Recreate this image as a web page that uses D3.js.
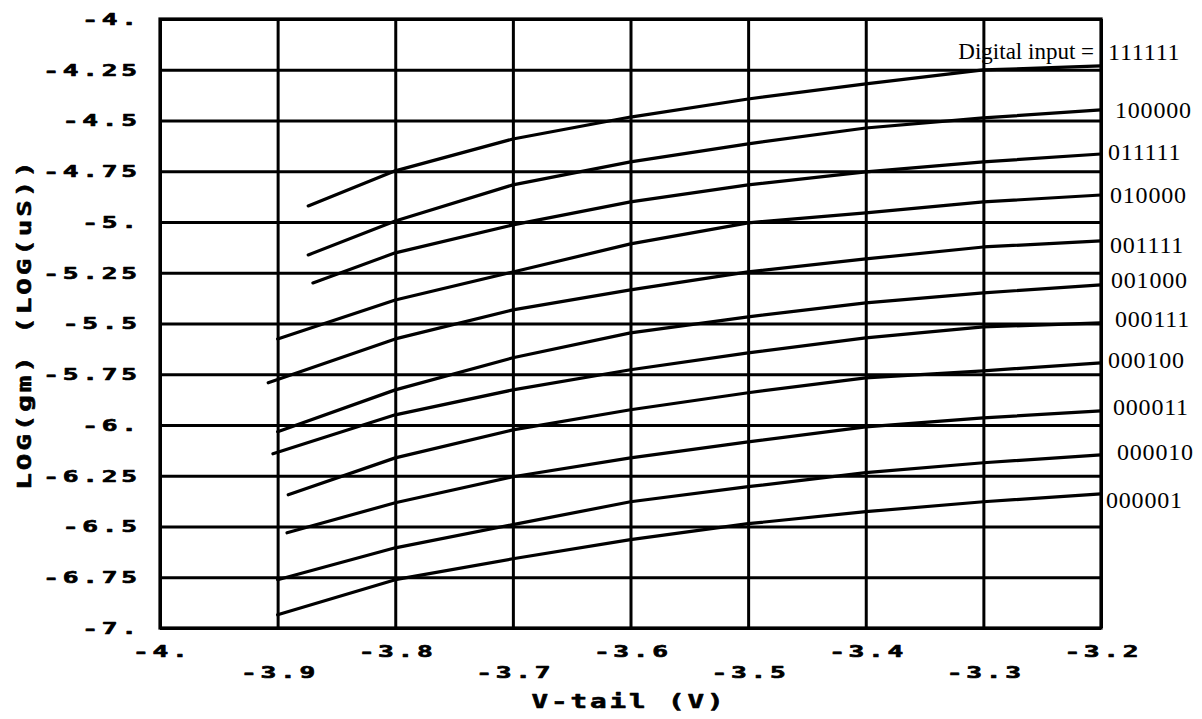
<!DOCTYPE html>
<html>
<head>
<meta charset="utf-8">
<script src="https://cdn.jsdelivr.net/npm/d3@7"></script>
<style>
  html, body { margin: 0; padding: 0; background: #fff; }
  svg { display: block; }
  .serif { font-family: "Liberation Serif", "DejaVu Serif", serif; fill: #000; }
</style>
</head>
<body>
<svg id="chart" width="1202" height="719"></svg>
<script>
// Tail voltage sweep (V) and transconductance curves, one per digital input code.
const inputCodes = ["111111", "100000", "011111", "010000", "001111", "001000",
                    "000111", "000100", "000011", "000010", "000001"];
// first sample of each sweep (V)
const startVTail = [-3.874, -3.874, -3.870, -3.900, -3.908, -3.900, -3.904, -3.891, -3.892, -3.900, -3.900];
// remaining samples are taken at these tail voltages (V)
const gridVTail = [-3.8, -3.7, -3.6, -3.5, -3.4, -3.3, -3.2];

// LOG(gm) values: first entry at startVTail, then at each gridVTail
const gm111111 = [-4.921, -4.748, -4.591, -4.483, -4.394, -4.320, -4.251, -4.231];
const gm100000 = [-5.162, -4.995, -4.817, -4.704, -4.615, -4.537, -4.487, -4.448];
const gm011111 = [-5.300, -5.152, -5.014, -4.901, -4.817, -4.753, -4.704, -4.665];
const gm010000 = [-5.576, -5.384, -5.246, -5.108, -5.004, -4.955, -4.901, -4.867];
const gm001111 = [-5.792, -5.576, -5.433, -5.334, -5.246, -5.182, -5.123, -5.093];
const gm001000 = [-6.033, -5.827, -5.669, -5.546, -5.467, -5.398, -5.349, -5.310];
const gm000111 = [-6.142, -5.950, -5.827, -5.728, -5.645, -5.571, -5.517, -5.497];
const gm000100 = [-6.344, -6.162, -6.024, -5.925, -5.841, -5.768, -5.733, -5.694];
const gm000011 = [-6.531, -6.383, -6.255, -6.162, -6.083, -6.009, -5.965, -5.930];
const gm000010 = [-6.762, -6.605, -6.491, -6.378, -6.304, -6.235, -6.186, -6.147];
const gm000001 = [-6.935, -6.762, -6.659, -6.565, -6.486, -6.427, -6.378, -6.339];
const gmSeries = [gm111111, gm100000, gm011111, gm010000, gm001111, gm001000,
                  gm000111, gm000100, gm000011, gm000010, gm000001];

// Axis ticks
const xTickValues = [-4.0, -3.9, -3.8, -3.7, -3.6, -3.5, -3.4, -3.3, -3.2];
const xTickLabels = ["-4.", "-3.9", "-3.8", "-3.7", "-3.6", "-3.5", "-3.4", "-3.3", "-3.2"];
const yTickValues = [-4, -4.25, -4.5, -4.75, -5, -5.25, -5.5, -5.75, -6, -6.25, -6.5, -6.75, -7];
const yTickLabels = ["-4.", "-4.25", "-4.5", "-4.75", "-5.", "-5.25", "-5.5", "-5.75",
                     "-6.", "-6.25", "-6.5", "-6.75", "-7."];

// Layout
const plot = { left: 160, right: 1101, top: 19, bottom: 628 };
// small nudges (px) for the code labels at the right-hand end of each curve
const labelNudge = [[7, -6], [14, 8], [7, 6], [9, 8], [9, 12], [10, 3],
                    [14, 4], [7, 5], [12, 4], [16, 5], [5, 14]];

// Wide, heavy "plotter" lettering: a bold monospace face stretched horizontally,
// with spacing chosen so each character occupies a fixed pitch.
function plotterStyle(size, sx, pitch) {
  const adv = 0.602 * size;
  const ls = pitch / sx - adv;
  return { size, sx, ls };
}
function applyPlotter(sel, st) {
  sel.attr("font-family", "DejaVu Sans Mono, Liberation Mono, monospace")
    .attr("font-weight", "bold")
    .attr("font-size", st.size)
    .attr("letter-spacing", st.ls)
    .attr("fill", "#000")
    .attr("stroke", "#000")
    .attr("stroke-width", 0.6)
    .attr("stroke-linejoin", "round");
  return sel;
}
const tickStyle = plotterStyle(15, 1.75, 19.5);
const titleStyle = plotterStyle(19, 1.45, 19.5);

const svg = d3.select("#chart");

const x = d3.scaleLinear().domain([-4.0, -3.2]).range([plot.left, plot.right]);
const y = d3.scaleLinear().domain([-7, -4]).range([plot.bottom, plot.top]);

// vertical grid lines
svg.append("g")
  .attr("transform", `translate(0,${plot.bottom})`)
  .call(d3.axisBottom(x).tickValues(xTickValues).tickSize(-(plot.bottom - plot.top)).tickFormat(""))
  .call(g => g.select(".domain").remove())
  .call(g => g.selectAll("line").attr("stroke", "#000").attr("stroke-width", 3));

// horizontal grid lines
svg.append("g")
  .attr("transform", `translate(${plot.left},0)`)
  .call(d3.axisLeft(y).tickValues(yTickValues).tickSize(-(plot.right - plot.left)).tickFormat(""))
  .call(g => g.select(".domain").remove())
  .call(g => g.selectAll("line").attr("stroke", "#000").attr("stroke-width", 3));

// frame
svg.append("rect")
  .attr("x", plot.left).attr("y", plot.top)
  .attr("width", plot.right - plot.left).attr("height", plot.bottom - plot.top)
  .attr("fill", "none").attr("stroke", "#000").attr("stroke-width", 3.2);

// y tick labels (right-aligned)
const yLabelAxis = svg.append("g")
  .attr("transform", `translate(${plot.left},0)`)
  .call(d3.axisLeft(y).tickValues(yTickValues).tickSize(0).tickPadding(0)
        .tickFormat((d, i) => yTickLabels[i]));
yLabelAxis.select(".domain").remove();
applyPlotter(yLabelAxis.selectAll("text"), tickStyle)
  .attr("text-anchor", "end")
  .attr("transform", `scale(${tickStyle.sx},1)`)
  .attr("x", (137 - plot.left + tickStyle.ls * tickStyle.sx) / tickStyle.sx)
  .attr("dy", "0.36em");

// x tick labels, alternating between two rows
const xLabelAxis = svg.append("g")
  .attr("transform", `translate(0,${plot.bottom})`)
  .call(d3.axisBottom(x).tickValues(xTickValues).tickSize(0).tickPadding(0)
        .tickFormat((d, i) => xTickLabels[i]));
xLabelAxis.select(".domain").remove();
applyPlotter(xLabelAxis.selectAll("text"), tickStyle)
  .attr("text-anchor", "middle")
  .attr("transform", `scale(${tickStyle.sx},1)`)
  .attr("x", tickStyle.ls / 2)
  .attr("dy", null)
  .attr("y", (d, i) => (i % 2 === 0 ? 29 : 50));

// axis titles
applyPlotter(svg.append("text"), titleStyle)
  .attr("text-anchor", "middle")
  .attr("transform", `translate(${(plot.left + plot.right) / 2 - 3},708) scale(${titleStyle.sx},1)`)
  .attr("x", titleStyle.ls / 2)
  .text("V-tail (V)");

applyPlotter(svg.append("text"), titleStyle)
  .attr("text-anchor", "middle")
  .attr("transform", `translate(31,${(plot.top + plot.bottom) / 2 + 2}) rotate(-90) scale(${titleStyle.sx},1)`)
  .attr("x", titleStyle.ls / 2)
  .text("LOG(gm) (LOG(uS))");

// curves
const line = d3.line()
  .x(d => x(d[0]))
  .y(d => y(d[1]));

gmSeries.forEach((vals, i) => {
  const vt = [startVTail[i]].concat(gridVTail);
  const pts = vals.map((v, j) => [vt[j], v]);
  svg.append("path")
    .datum(pts)
    .attr("fill", "none")
    .attr("stroke", "#000")
    .attr("stroke-width", 3.2)
    .attr("stroke-linejoin", "round")
    .attr("stroke-linecap", "round")
    .attr("d", line);
});

// code labels at the end of each curve
gmSeries.forEach((vals, i) => {
  svg.append("text")
    .attr("class", "serif")
    .attr("font-size", 24)
    .attr("letter-spacing", 0.8)
    .attr("x", x(-3.2) + labelNudge[i][0])
    .attr("y", y(vals[vals.length - 1]) + labelNudge[i][1])
    .text(inputCodes[i]);
});

svg.append("text")
  .attr("class", "serif")
  .attr("font-size", 23)
  .attr("text-anchor", "end")
  .attr("x", 1094)
  .attr("y", 59)
  .text("Digital input =");
</script>
</body>
</html>
